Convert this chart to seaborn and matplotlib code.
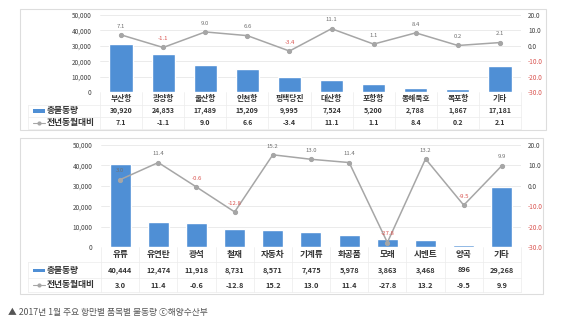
import numpy as np
import pandas as pd
import matplotlib
matplotlib.use("Agg")
import matplotlib.pyplot as plt
import matplotlib.transforms as mtrans
from matplotlib.patches import Rectangle
from matplotlib.lines import Line2D
import seaborn as sns

# ---------------- data ----------------
cats1 = ["부산항", "광양항", "울산항", "인천항", "평택당진", "대산항", "포항항", "동해묵호", "목포항", "기타"]
vol1 = [30920, 24853, 17489, 15209, 9995, 7524, 5200, 2788, 1867, 17181]
yoy1 = [7.1, -1.1, 9.0, 6.6, -3.4, 11.1, 1.1, 8.4, 0.2, 2.1]

cats2 = ["유류", "유연탄", "광석", "철재", "자동차", "기계류", "화공품", "모래", "시멘트", "양곡", "기타"]
vol2 = [40444, 12474, 11918, 8731, 8571, 7475, 5978, 3863, 3468, 896, 29268]
yoy2 = [3.0, 11.4, -0.6, -12.8, 15.2, 13.0, 11.4, -27.8, 13.2, -9.5, 9.9]

legend_vol = "총물동량"
legend_yoy = "전년동월대비"
caption = "▲ 2017년 1월 주요 항만별 품목별 물동량 ⓒ해양수산부"

sns.set_style("white")
plt.rcParams["font.family"] = ["Noto Sans CJK KR", "DejaVu Sans"]
plt.rcParams["axes.unicode_minus"] = False

W, H = 567, 325
fig = plt.figure(figsize=(W / 100, H / 100), dpi=100)
fig.patch.set_facecolor("white")

BAR = "#4f8fd5"
LINE = "#a6a6a6"
GRID = "#e8e8e8"
RED = "#d9534f"
TXT = "#404040"


def fx(px):
    return px / W


def fy(py):
    return 1 - py / H


def panel(cats, vols, yoys, box, frame, rows, cat_fs, val_fs):
    l, t, r, b = box
    ax = fig.add_axes([fx(l), fy(b), fx(r - l), (b - t) / H])
    n = len(cats)
    df = pd.DataFrame({"cat": cats, "vol": vols, "yoy": yoys, "pos": np.arange(n)})
    sns.barplot(data=df, x="cat", y="vol", color=BAR, width=0.55, ax=ax,
                saturation=1, zorder=2)
    ax.set_ylim(0, 50000)
    ax.set_xlim(-0.5, n - 0.5)
    ax.set_yticks(np.arange(0, 50001, 10000))
    ax.set_yticklabels([f"{v:,}" for v in range(0, 50001, 10000)], fontsize=4.6, color=TXT)
    ax.tick_params(axis="y", length=0, pad=6)
    ax.set_xticks([])
    ax.set_xlabel("")
    ax.set_ylabel("")
    ax.grid(axis="y", color=GRID, linewidth=0.6, zorder=0)
    for s in ax.spines.values():
        s.set_visible(False)

    ax2 = ax.twinx()
    sns.lineplot(data=df, x="pos", y="yoy", ax=ax2, color=LINE, linewidth=1.1,
                 marker="o", markersize=3, markeredgecolor=LINE, zorder=3)
    ax2.set_ylim(-30, 20)
    ax2.set_xlim(-0.5, n - 0.5)
    ticks2 = np.arange(-30, 21, 10)
    ax2.set_yticks(ticks2)
    ax2.set_yticklabels([f"{v:.1f}" for v in ticks2], fontsize=4.6)
    for lab, v in zip(ax2.get_yticklabels(), ticks2):
        lab.set_color(RED if v < 0 else TXT)
    ax2.tick_params(axis="y", length=0, pad=5)
    ax2.set_ylabel("")
    ax2.set_xlabel("")
    for s in ax2.spines.values():
        s.set_visible(False)
    for i, v in enumerate(yoys):
        ax2.annotate(f"{v:.1f}", (i, v), xytext=(0, 4.5), textcoords="offset points",
                     ha="center", va="bottom", fontsize=4.3,
                     color=RED if v < 0 else "#707070")

    # table
    tr = mtrans.blended_transform_factory(ax.transData, fig.transFigure)
    r0, r1, r2, r3 = rows
    for i in range(n):
        ax.text(i, fy((r0 + r1) / 2), cats[i], transform=tr, ha="center", va="center",
                fontsize=cat_fs, fontweight="bold", color="#333333")
        ax.text(i, fy((r1 + r2) / 2), f"{vols[i]:,}", transform=tr, ha="center", va="center",
                fontsize=val_fs, fontweight="bold", color="#333333")
        ax.text(i, fy((r2 + r3) / 2), f"{yoys[i]:.1f}", transform=tr, ha="center", va="center",
                fontsize=val_fs, fontweight="bold", color="#333333")
    lc = "#ececec"
    for yy in (r1, r2, r3):
        fig.add_artist(Line2D([fx(frame[0] + 8), fx(r)], [fy(yy), fy(yy)], color=lc, lw=0.5))
    for k in range(n + 1):
        xx = l + k * (r - l) / n
        fig.add_artist(Line2D([fx(xx), fx(xx)], [fy(r0), fy(r3)], color=lc, lw=0.5))
    fig.add_artist(Line2D([fx(frame[0] + 8), fx(frame[0] + 8)], [fy(r1), fy(r3)], color=lc, lw=0.5))
    # legend in table
    lx = frame[0] + 13
    ym = (r1 + r2) / 2
    fig.add_artist(Rectangle((fx(lx), fy(ym + 1.5)), fx(12), 3 / H, color=BAR, lw=0))
    fig.text(fx(lx + 14), fy(ym), legend_vol, ha="left", va="center", fontsize=6.3,
             fontweight="bold", color="#333333")
    ym = (r2 + r3) / 2
    fig.add_artist(Line2D([fx(lx), fx(lx + 12)], [fy(ym), fy(ym)], color=LINE, lw=0.8))
    fig.add_artist(Line2D([fx(lx + 6)], [fy(ym)], color=LINE, marker="o", markersize=2))
    fig.text(fx(lx + 14), fy(ym), legend_yoy, ha="left", va="center", fontsize=6.3,
             fontweight="bold", color="#333333")
    fl, ft, fr, fb = frame
    fig.add_artist(Rectangle((fx(fl), fy(fb)), fx(fr - fl), (fb - ft) / H, fill=False,
                             edgecolor="#dddddd", lw=0.8))
    return ax


panel(cats1, vol1, yoy1, box=(100, 15, 521, 92), frame=(20, 9, 546, 130),
      rows=(92, 105, 117, 129), cat_fs=5.6, val_fs=5.0)
panel(cats2, vol2, yoy2, box=(101, 145, 521, 247), frame=(20, 138, 543, 294),
      rows=(247, 262, 278, 292), cat_fs=6.2, val_fs=5.3)

fig.text(fx(8), fy(313), caption, ha="left", va="center", fontsize=6.3, color="#555555",
         family=["Noto Sans CJK KR", "DejaVu Sans"])

fig.savefig("out.png", dpi=100, facecolor="white")
